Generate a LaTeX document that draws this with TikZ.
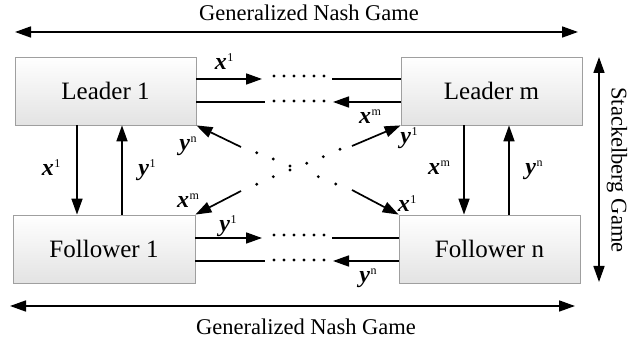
\documentclass[tikz,border=0pt]{standalone}
\usepackage{fontspec}
\setmainfont{Liberation Serif}
\usetikzlibrary{arrows.meta}
\tikzset{
  box/.style={draw=gray!75, line width=0.8pt, top color=white, bottom color=gray!22,
    minimum width=181pt, minimum height=68pt, inner sep=0pt, font=\fontsize{25}{27}\selectfont},
  arr/.style={line width=1.7pt, -{Triangle[length=16pt,width=11pt]}},
  darr/.style={line width=1.7pt, {Triangle[length=16pt,width=11pt]}-{Triangle[length=16pt,width=11pt]}},
  ln/.style={line width=1.7pt},
  lbl/.style={font=\fontsize{24}{26}\selectfont, inner sep=0pt},
  captxt/.style={font=\fontsize{22.5}{24}\selectfont, inner sep=0pt},
  dotc/.style={fill=black, draw=none}
}
\newcommand{\vx}[1]{\textbf{\textit{x}}\kern0.5pt\raisebox{8pt}{\fontsize{12}{12}\selectfont #1}}
\newcommand{\vy}[1]{\textbf{\textit{y}}\kern0.5pt\raisebox{8pt}{\fontsize{12}{12}\selectfont #1}}
\begin{document}
\begin{tikzpicture}[x=1pt,y=-1pt]
\useasboundingbox (0,0) rectangle (629,344);
% boxes
\node[box] (L1) at (105.5,91) {Leader 1};
\node[box] (Lm) at (491.5,91) {Leader m};
\node[box, minimum width=182pt] (F1) at (104,249) {Follower 1};
\node[box] (Fn) at (489.5,249) {Follower n};
% top/bottom Nash arrows
\coordinate (t1) at (15,32); \coordinate (t2) at (578,32);
\draw[darr] (t1) -- (t2);
\node[captxt] (tcap) at (309,13) {Generalized Nash Game};
\coordinate (b1) at (10,306); \coordinate (b2) at (575,306);
\draw[darr] (b1) -- (b2);
\node[captxt] (bcap) at (306,327) {Generalized Nash Game};
% Stackelberg
\coordinate (s1) at (599,57); \coordinate (s2) at (599,282);
\draw[darr] (s1) -- (s2);
\node[captxt, rotate=-90] (scap) at (617,170) {Stackelberg Game};
% leader horizontal links
\coordinate (la) at (262,79); \coordinate (lb) at (332,79);
\coordinate (lc) at (265,102); \coordinate (ld) at (333,102);
\draw[arr] ([yshift=12pt]L1.east) -- (la);
\draw[ln] (lb) -- ([yshift=12pt]Lm.west);
\draw[ln] ([yshift=-11pt]L1.east) -- (lc);
\draw[arr] ([yshift=-11pt]Lm.west) -- (ld);
% follower horizontal links
\coordinate (fa) at (262,238); \coordinate (fb) at (332,238);
\coordinate (fc) at (265,261); \coordinate (fd) at (333,261);
\draw[arr] ([yshift=11pt]F1.east) -- (fa);
\draw[ln] (fb) -- ([yshift=11pt]Fn.west);
\draw[ln] ([yshift=-12pt]F1.east) -- (fc);
\draw[arr] ([yshift=-12pt]Fn.west) -- (fd);
% dot rows
\foreach \yy in {76,101,235,260}{
  \foreach \xx in {274,284,...,324}{ \fill[dotc] (\xx,\yy) circle (1.6pt); }
}
% vertical links
\draw[arr] ([xshift=-28.5pt]L1.south) -- ([xshift=-28.5pt]L1.south |- F1.north);
\draw[arr] ([xshift=16.5pt]L1.south |- F1.north) -- ([xshift=16.5pt]L1.south);
\draw[arr] ([xshift=-27.5pt]Lm.south) -- ([xshift=-27.5pt]Lm.south |- Fn.north);
\draw[arr] ([xshift=17.5pt]Lm.south |- Fn.north) -- ([xshift=17.5pt]Lm.south);
% diagonals
\coordinate (d1) at (241,147); \coordinate (d2) at (352,146);
\coordinate (d3) at (241,191); \coordinate (d4) at (352,190);
\draw[arr] (d1) -- (L1.south east);
\draw[arr] (d2) -- (Lm.south west);
\draw[arr] (d3) -- (F1.north east);
\draw[arr] (d4) -- (Fn.north west);
% X dots
\foreach \p in {(256.7,152.7),(273.3,159),(290,166),(290,170),(306.7,163.3),(323.3,156.7),(340,149.3),(256.7,184.3),(273.3,176.7),(318.3,176.7),(335.7,184)}{
  \fill[dotc] \p circle (1.6pt);
}
% labels
\node[lbl] (l1) at (224,62) {\vx{1}};
\node[lbl] (l2) at (370,117) {\vx{m}};
\node[lbl] (l3) at (409,138) {\vy{1}};
\node[lbl] (l4) at (188,146) {\vy{n}};
\node[lbl] (l5) at (51,168) {\vx{1}};
\node[lbl] (l6) at (147,170) {\vy{1}};
\node[lbl] (l7) at (439,168) {\vx{m}};
\node[lbl] (l8) at (534,170) {\vy{n}};
\node[lbl] (l9) at (188,201) {\vx{m}};
\node[lbl] (l10) at (228,226) {\vy{1}};
\node[lbl] (l11) at (407,204) {\vx{1}};
\node[lbl] (l12) at (368,278) {\vy{n}};
\end{tikzpicture}
\end{document}
